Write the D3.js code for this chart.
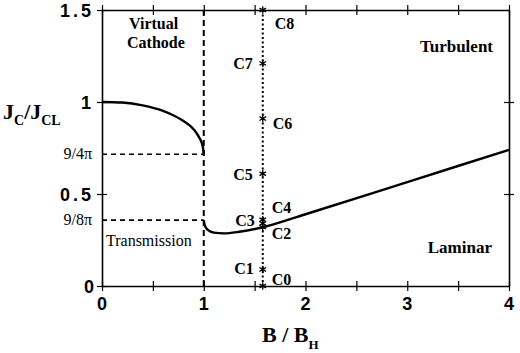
<!DOCTYPE html>
<html>
<head>
<meta charset="utf-8">
<script src="https://cdn.jsdelivr.net/npm/d3@7"></script>
<style>
  body { margin: 0; background: #fff; }
  svg { display: block; }
  .num { font-family: "Liberation Sans", Arial, sans-serif; font-weight: bold; font-size: 18px; }
  .ser { font-family: "Liberation Serif", "Times New Roman", serif; }
</style>
</head>
<body>
<div id="chart"></div>
<script>
// upper branch (virtual cathode limit), B/BH -> Jc/Jcl
const upperX = [0, 0.2, 0.4, 0.6, 0.7, 0.8, 0.9, 0.95, 0.99, 1.0];
const upperY = [1.0, 0.997, 0.982, 0.952, 0.928, 0.897, 0.852, 0.812, 0.76, 0.716];
// lower branch (transmission / laminar boundary)
const lowerX = [1.0, 1.01, 1.04, 1.1, 1.2, 1.35, 1.6, 2.0, 3.0, 4.0];
const lowerY = [0.358, 0.33, 0.305, 0.29, 0.286, 0.295, 0.322, 0.39, 0.565, 0.74];
// cases along B/BH = 1.58
const caseX = 1.58;
const caseNames = ['C0', 'C1', 'C2', 'C3', 'C4', 'C5', 'C6', 'C7', 'C8'];
const caseY = [0.0, 0.09, 0.32, 0.34, 0.36, 0.61, 0.91, 1.21, 1.5];
const caseSide = ['r', 'l', 'r', 'l', 'r', 'l', 'r', 'l', 'r'];
const xMinorTicks = [0, 0.5, 1, 1.5, 2, 2.5, 3, 3.5, 4];
const xLabels = [0, 1, 2, 3, 4];
const yTicks = [0, 0.5, 1, 1.5];
const yFracs = [{ v: 9 / (8 * Math.PI), t: '9/8π' }, { v: 9 / (4 * Math.PI), t: '9/4π' }];

const width = 520, height = 353;
const svg = d3.select('#chart').append('svg').attr('width', width).attr('height', height);

const x = d3.scaleLinear().domain([0, 4]).range([102, 509]);
const y = d3.scaleLinear().domain([0, 1.5]).range([286, 10]);

// frame with crossing ticks
function crossTicks(sel) {
  sel.selectAll('.tick line').attr('stroke', '#000').attr('stroke-width', 1.2);
  sel.select('.domain').attr('stroke', '#000').attr('stroke-width', 1.6);
  sel.selectAll('.tick text').remove();
}
svg.append('g').attr('transform', `translate(0,${y(0)})`)
  .call(d3.axisBottom(x).tickValues(xMinorTicks).tickSizeInner(5).tickSizeOuter(0))
  .call(crossTicks)
  .call(a => a.selectAll('.tick line').attr('y1', -5));
svg.append('g').attr('transform', `translate(0,${y(1.5)})`)
  .call(d3.axisTop(x).tickValues(xMinorTicks).tickSizeInner(5).tickSizeOuter(0))
  .call(crossTicks)
  .call(a => a.selectAll('.tick line').attr('y1', 5));
svg.append('g').attr('transform', `translate(${x(0)},0)`)
  .call(d3.axisLeft(y).tickValues(yTicks).tickSizeInner(5).tickSizeOuter(0))
  .call(crossTicks)
  .call(a => a.selectAll('.tick line').attr('x1', 5));
svg.append('g').attr('transform', `translate(${x(4)},0)`)
  .call(d3.axisRight(y).tickValues([0.5, 1]).tickSizeInner(5).tickSizeOuter(0))
  .call(crossTicks)
  .call(a => a.selectAll('.tick line').attr('x1', -5));

// tick labels
svg.selectAll('.xl').data(xLabels).join('text')
  .attr('class', 'num').attr('x', d => x(d)).attr('y', 310)
  .attr('text-anchor', 'middle').text(d => d);
svg.selectAll('.yl').data(yTicks).join('text')
  .attr('class', 'num').attr('x', d => d === 1 ? 91 : 94).attr('y', d => y(d) + 7)
  .attr('text-anchor', 'end').attr('letter-spacing', d => d % 1 ? '3px' : 0)
  .text(d => d);
svg.selectAll('.yf').data(yFracs).join('text')
  .attr('class', 'ser').attr('x', 92).attr('y', d => y(d.v) + 5)
  .attr('text-anchor', 'end').attr('font-size', 16).text(d => d.t);

// dashed guides
svg.selectAll('.hd').data(yFracs).join('line')
  .attr('x1', x(0)).attr('x2', x(1)).attr('y1', d => y(d.v)).attr('y2', d => y(d.v))
  .attr('stroke', '#000').attr('stroke-width', 1.6).attr('stroke-dasharray', '5,4');
svg.append('line')
  .attr('x1', x(1)).attr('x2', x(1)).attr('y1', y(1.5)).attr('y2', y(0))
  .attr('stroke', '#000').attr('stroke-width', 2).attr('stroke-dasharray', '6,4');
svg.append('line')
  .attr('x1', x(caseX)).attr('x2', x(caseX)).attr('y1', y(1.5)).attr('y2', y(0))
  .attr('stroke', '#000').attr('stroke-width', 2).attr('stroke-dasharray', '2,2.5');

// curves
const line = d3.line().x(d => x(d[0])).y(d => y(d[1])).curve(d3.curveMonotoneX);
svg.append('path').datum(d3.zip(upperX, upperY)).attr('d', line)
  .attr('fill', 'none').attr('stroke', '#000').attr('stroke-width', 2.4);
svg.append('path').datum(d3.zip(lowerX, lowerY)).attr('d', line)
  .attr('fill', 'none').attr('stroke', '#000').attr('stroke-width', 2.4);

// case markers and labels
const sym = d3.symbol().type(d3.symbolAsterisk).size(40);
svg.selectAll('.cm').data(caseY).join('path')
  .attr('d', sym).attr('transform', d => `translate(${x(caseX)},${y(d)})`)
  .attr('fill', 'none').attr('stroke', '#000').attr('stroke-width', 1.3);
const labOff = { C0: [9, -1], C1: [-9, 5], C2: [9, 12], C3: [-8, 3], C4: [9, -7], C5: [-10, 6], C6: [10, 10], C7: [-10, 6], C8: [12, 19] };
svg.selectAll('.cl').data(caseNames).join('text')
  .attr('class', 'ser').attr('font-size', 16).attr('font-weight', 'bold')
  .attr('x', (d, i) => x(caseX) + labOff[d][0])
  .attr('y', (d, i) => y(caseY[i]) + labOff[d][1])
  .attr('text-anchor', (d, i) => caseSide[i] === 'r' ? 'start' : 'end')
  .text(d => d);

// region labels
const region = (t, px, py, bold, size, anchor) => svg.append('text').attr('class', 'ser')
  .attr('x', px).attr('y', py).attr('font-size', size)
  .attr('font-weight', bold ? 'bold' : 'normal').attr('text-anchor', anchor).text(t);
region('Virtual', 129, 29, true, 16, 'start');
region('Cathode', 127, 48, true, 16, 'start');
region('Transmission', 106, 246, false, 16, 'start');
region('Turbulent', 493, 52, true, 17, 'end');
region('Laminar', 492, 253, true, 17, 'end');

// axis titles
const yt = svg.append('text').attr('class', 'ser').attr('font-weight', 'bold').attr('font-size', 22)
  .attr('x', 3).attr('y', 119);
yt.append('tspan').text('J');
yt.append('tspan').attr('font-size', 14).attr('dy', 6).text('C');
yt.append('tspan').attr('dy', -6).text('/J');
yt.append('tspan').attr('font-size', 14).attr('dy', 6).text('CL');

const xt = svg.append('text').attr('class', 'ser').attr('font-weight', 'bold').attr('font-size', 22)
  .attr('x', 262).attr('y', 342);
xt.append('tspan').text('B / B');
xt.append('tspan').attr('font-size', 13).attr('dy', 7).text('H');
</script>
</body>
</html>
